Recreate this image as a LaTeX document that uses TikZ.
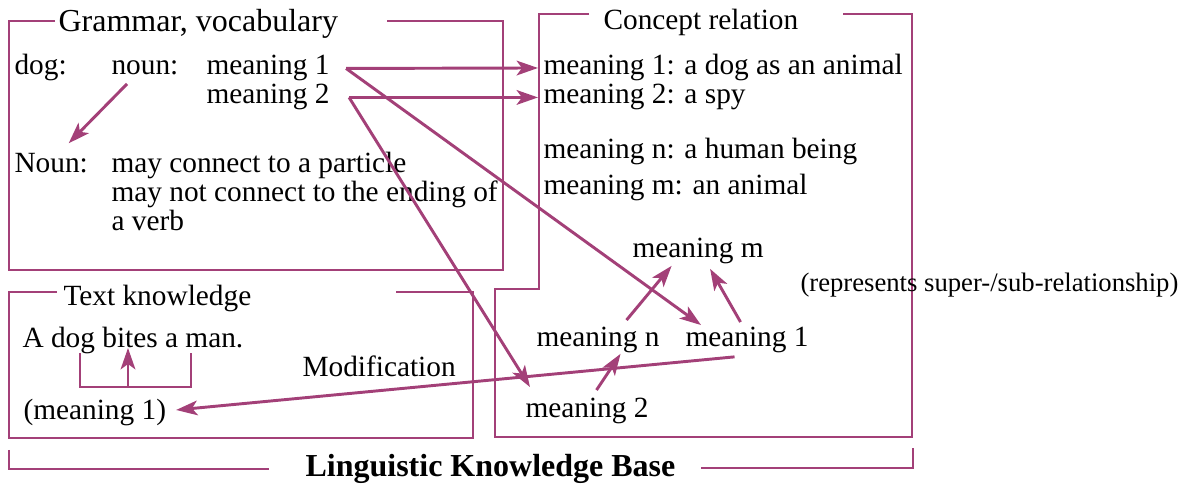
\documentclass[tikz,border=0pt]{standalone}
\usepackage{fontspec}
\setmainfont{Liberation Serif}
\usepackage{xcolor}
\usetikzlibrary{positioning,calc,arrows.meta}
\definecolor{kbpurple}{RGB}{163,64,120}

\begin{document}
\begin{tikzpicture}[x=0.375pt, y=-0.375pt,
  font=\fontsize{11}{13}\selectfont,
  frame/.style={draw=kbpurple, line width=1.1pt},
  link/.style={draw=kbpurple, line width=1.1pt, -{Stealth[length=8pt, width=5.5pt, inset=2pt]}},
  txt/.style={inner sep=0pt, anchor=base west}]
  \useasboundingbox (0,0) rectangle (1186,484);

  % (a) Grammar, vocabulary
  \draw[frame] (55,21) -| (9,270) -| (503,21) -- (387,21);
  \node[txt, font=\fontsize{12}{14}\selectfont] (gtitle) at (58,32) {Grammar, vocabulary};
  \node[txt] (gdog) at (14,75) {dog:};
  \node[txt] (gnoun) at (111,75) {noun:};
  \node[txt] (gm1) at (206,75) {meaning 1};
  \node[txt] (gm2) at (206,104) {meaning 2};
  \node[txt] (grule) at (14,173) {Noun:};
  \node[txt] (gp1) at (111,173) {may connect to a particle};
  \node[txt] (gp2) at (111,202) {may not connect to the ending of};
  \node[txt] (gp3) at (111,231) {a verb};
  \draw[link] ($(gnoun.south west)+(16,8)$) -- ($(grule.north)+(17.5,-10)$);

  % (b) Concept relation
  \draw[frame] (589,14) -- (539,14) -- (539,289) -- (495,289) -- (495,437) -- (912,437) -- (912,14) -- (843,14);
  \node[txt] (ctitle) at (603,30) {Concept relation};
  \node[txt] (cm1) at (543,75) {meaning 1: a dog as an animal};
  \node[txt] (cm2) at (543,104) {meaning 2: a spy};
  \node[txt] (cmn) at (543,159) {meaning n: a human being};
  \node[txt] (cmm) at (543,195) {meaning m: an animal};
  \node[txt] (rm) at (632,258) {meaning m};
  \node[txt, font=\fontsize{10}{12}\selectfont] (rsup) at (800,292) {(represents super-/sub-relationship)};
  \node[txt] (rn) at (536,347) {meaning n};
  \node[txt] (r1) at (685,347) {meaning 1};
  \node[txt] (r2) at (525,418) {meaning 2};
  \draw[link] ($(rn.north)+(28.5,-7)$) -- ($(rm.south)+(-26.5,1)$);
  \draw[link] ($(r1.north)+(-6.5,-5)$) -- ($(rm.south)+(12,4)$);
  \draw[link] ($(r2.north)+(9.5,-8)$) -- ($(rn.south)+(22.5,0)$);

  % (c) Text knowledge
  \draw[frame] (57,292) -| (9,438) -| (473,292) -- (396,292);
  \node[txt] (ttitle) at (63,306) {Text knowledge};
  \node[txt] (tsent) at (22,348) {A dog bites a man.};
  \node[txt] (tmod) at (302,377) {Modification};
  \node[txt] (tm1) at (23,420) {(meaning 1)};
  \draw[frame] (80,353) |- (191,387) -- (191,353);
  \coordinate (brk) at (128,387);
  \draw[link] (brk) -- (brk |- tsent.base);

  % links between the parts
  \draw[link] ($(gm1.east)+(16,0)$) -- ($(cm1.west)+(-5,0)$);
  \draw[link] ($(gm2.east)+(19,0)$) -- ($(cm2.west)+(-5,0)$);
  \draw[link] ($(gm1.east)+(16,0)$) -- ($(r1.north west)+(16,-2)$);
  \draw[link] ($(gm2.east)+(19,0)$) -- ($(r2.north west)+(5,-11)$);
  \draw[link] ($(r1.south)+(-12.5,3)$) -- ($(tm1.east)+(9.5,-3)$);

  % knowledge base bracket
  \node[txt, font=\fontsize{12}{14}\selectfont\bfseries] (kb) at (305,477) {Linguistic Knowledge Base};
  \draw[frame] (9,450) |- (269,469);
  \draw[frame] (701,468) -| (913,448);
\end{tikzpicture}
\end{document}
